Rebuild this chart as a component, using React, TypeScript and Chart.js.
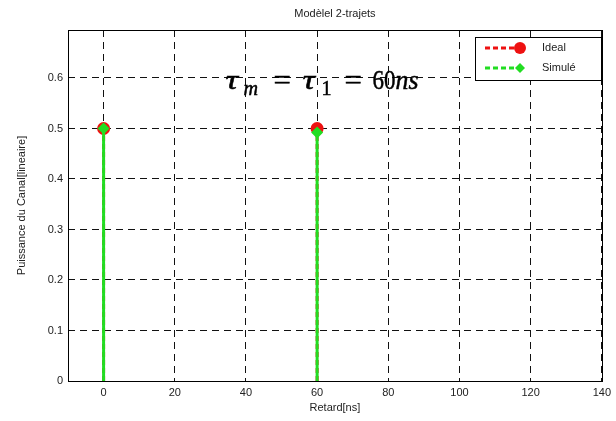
import React, { useEffect, useRef } from "react";
import { Chart, registerables } from "chart.js";

Chart.register(...registerables);

// ---- data ----
const delays = [0, 60]; // Retard [ns]
const idealPower = [0.5, 0.5];
const simulatedPower = [0.5, 0.492];
const xTickValues = [0, 20, 40, 60, 80, 100, 120, 140];
const yTickValues = [0, 0.1, 0.2, 0.3, 0.4, 0.5, 0.6];
const seriesLabels = ["Ideal", "Simulé"];
const chartTitle = "Modèlel 2-trajets";
const xTitle = "Retard[ns]";
const yTitle = "Puissance du Canal[lineaire]";

const RED = "#ee1111";
const GREEN = "#22dd22";
const SANS = "'Liberation Sans', Arial, sans-serif";

function stemData(xs: number[], ys: number[]) {
  const out: any[] = [];
  xs.forEach((x, i) => {
    out.push({ x, y: 0, top: false });
    out.push({ x, y: ys[i], top: true });
    out.push({ x, y: null, top: false });
  });
  return out;
}

const framePlugin = {
  id: "frame",
  beforeDatasetsDraw(chart: any) {
    const { ctx, chartArea: a } = chart;
    ctx.save();
    ctx.strokeStyle = "#000";
    ctx.lineWidth = 1;
    ctx.setLineDash([]);
    ctx.strokeRect(Math.round(a.left) + 0.5, Math.round(a.top) + 0.5, Math.round(a.right - a.left), Math.round(a.bottom - a.top));
    ctx.restore();
  },
  afterDraw(chart: any) {
    const { ctx, chartArea: a, scales } = chart;
    ctx.save();
    // title
    ctx.fillStyle = "#222";
    ctx.font = `11px ${SANS}`;
    ctx.textAlign = "center";
    ctx.textBaseline = "middle";
    ctx.fillText(chartTitle, (a.left + a.right) / 2, 14);

    // math annotation: τ_m = τ_1 = 60ns
    const ax = scales.x.getPixelForValue(34);
    const ay = scales.y.getPixelForValue(0.578);
    const serif = "'Liberation Serif', 'DejaVu Serif', serif";
    const size = 28;
    const pieces = [
      { t: "τ", it: true, s: 1, dy: 0, x0: 1, sx: 1.25 },
      { t: "m", it: true, s: 0.72, dy: 6, x0: 19, sx: 1 },
      { t: "=", it: false, s: 1, dy: 0, x0: 49, sx: 1.1 },
      { t: "τ", it: true, s: 1, dy: 0, x0: 78, sx: 1.25 },
      { t: "1", it: false, s: 0.72, dy: 6, x0: 97, sx: 1 },
      { t: "=", it: false, s: 1, dy: 0, x0: 120, sx: 1.1 },
      { t: "60", it: false, s: 1, dy: 0, x0: 148, sx: 0.82 },
      { t: "ns", it: true, s: 1, dy: 0, x0: 171, sx: 0.92 },
    ];
    ctx.textAlign = "left";
    ctx.textBaseline = "alphabetic";
    ctx.fillStyle = "#000";
    ctx.strokeStyle = "#000";
    ctx.lineWidth = 0.5;
    pieces.forEach((p) => {
      ctx.font = `${p.it ? "italic " : ""}${size * p.s}px ${serif}`;
      ctx.save();
      ctx.translate(ax + p.x0, ay + p.dy);
      ctx.scale(p.sx, 1);
      ctx.fillText(p.t, 0, 0);
      ctx.strokeText(p.t, 0, 0);
      ctx.restore();
    });

    // legend
    const bx = 475, by = 37, bw = 126, bh = 43;
    ctx.fillStyle = "#fff";
    ctx.fillRect(bx, by, bw, bh);
    ctx.strokeStyle = "#000";
    ctx.lineWidth = 1;
    ctx.strokeRect(bx + 0.5, by + 0.5, bw, bh);
    const ds = chart.data.datasets;
    const entries = [ds[1], ds[0]];
    entries.forEach((d: any, i: number) => {
      const y = by + 11 + i * 20;
      ctx.save();
      ctx.strokeStyle = d.borderColor;
      ctx.lineWidth = 3;
      ctx.setLineDash([5, 3]);
      ctx.beginPath();
      ctx.moveTo(bx + 10, y);
      ctx.lineTo(bx + 45, y);
      ctx.stroke();
      ctx.restore();
      ctx.fillStyle = d.borderColor;
      ctx.beginPath();
      if (d.pointStyle === "rectRot") {
        const r = 5;
        ctx.moveTo(bx + 45, y - r);
        ctx.lineTo(bx + 45 + r, y);
        ctx.lineTo(bx + 45, y + r);
        ctx.lineTo(bx + 45 - r, y);
        ctx.closePath();
      } else {
        ctx.arc(bx + 45, y, 6, 0, Math.PI * 2);
      }
      ctx.fill();
      ctx.fillStyle = "#222";
      ctx.font = `11px ${SANS}`;
      ctx.textBaseline = "middle";
      ctx.fillText(d.label, bx + 67, y);
    });
    ctx.restore();
  },
};

export default function App() {
  const ref = useRef<HTMLCanvasElement>(null);
  useEffect(() => {
    document.body.style.margin = "0";
    const canvas = ref.current!;
    const chart = new Chart(canvas, {
      type: "scatter",
      data: {
        datasets: [
          {
            label: seriesLabels[1],
            data: stemData(delays, simulatedPower),
            showLine: true,
            borderColor: GREEN,
            backgroundColor: GREEN,
            borderWidth: 3,
            pointStyle: "rectRot",
            pointRadius: (c: any) => (c.raw && c.raw.top ? 6 : 0),
            pointBorderWidth: 0,
            order: 0,
          } as any,
          {
            label: seriesLabels[0],
            data: stemData(delays, idealPower),
            showLine: true,
            borderColor: RED,
            backgroundColor: RED,
            borderWidth: 3,
            borderDash: [5, 3],
            pointStyle: "circle",
            pointRadius: (c: any) => (c.raw && c.raw.top ? 6.5 : 0),
            pointBorderWidth: 0,
            order: 1,
          } as any,
        ],
      },
      options: {
        animation: false,
        responsive: false,
        layout: { padding: { top: 30, right: 14, left: 0, bottom: 0 } },
        plugins: { legend: { display: false }, tooltip: { enabled: false }, title: { display: false } },
        scales: {
          x: {
            type: "linear",
            min: -10,
            max: 140,
            afterBuildTicks: (s: any) => {
              s.ticks = xTickValues.map((v) => ({ value: v }));
            },
            afterFit: (s: any) => {
              s.height = 40;
            },
            grid: { color: "#111", lineWidth: 1, drawTicks: false },
            border: { display: false, dash: [7, 5] },
            ticks: {
              color: "#222",
              font: { size: 11, family: SANS },
              padding: 5,
              maxRotation: 0,
              autoSkip: false,
              callback: (v: any) => String(v),
            },
            title: { display: true, text: xTitle, color: "#222", font: { size: 11, family: SANS }, padding: { top: 0, bottom: 6 } },
          },
          y: {
            type: "linear",
            min: 0,
            max: 0.695,
            afterBuildTicks: (s: any) => {
              s.ticks = yTickValues.map((v) => ({ value: v }));
            },
            afterFit: (s: any) => {
              s.width = 68;
            },
            grid: { color: "#111", lineWidth: 1, drawTicks: false },
            border: { display: false, dash: [7, 5] },
            ticks: {
              color: "#222",
              font: { size: 11, family: SANS },
              padding: 5,
              autoSkip: false,
              callback: (v: any) => String(v),
            },
            title: { display: true, text: yTitle, color: "#222", font: { size: 11, family: SANS }, padding: { top: 15, bottom: 0 } },
          },
        },
      },
      plugins: [framePlugin],
    });
    return () => chart.destroy();
  }, []);
  return <canvas ref={ref} width={616} height={421} style={{ display: "block" }} />;
}
